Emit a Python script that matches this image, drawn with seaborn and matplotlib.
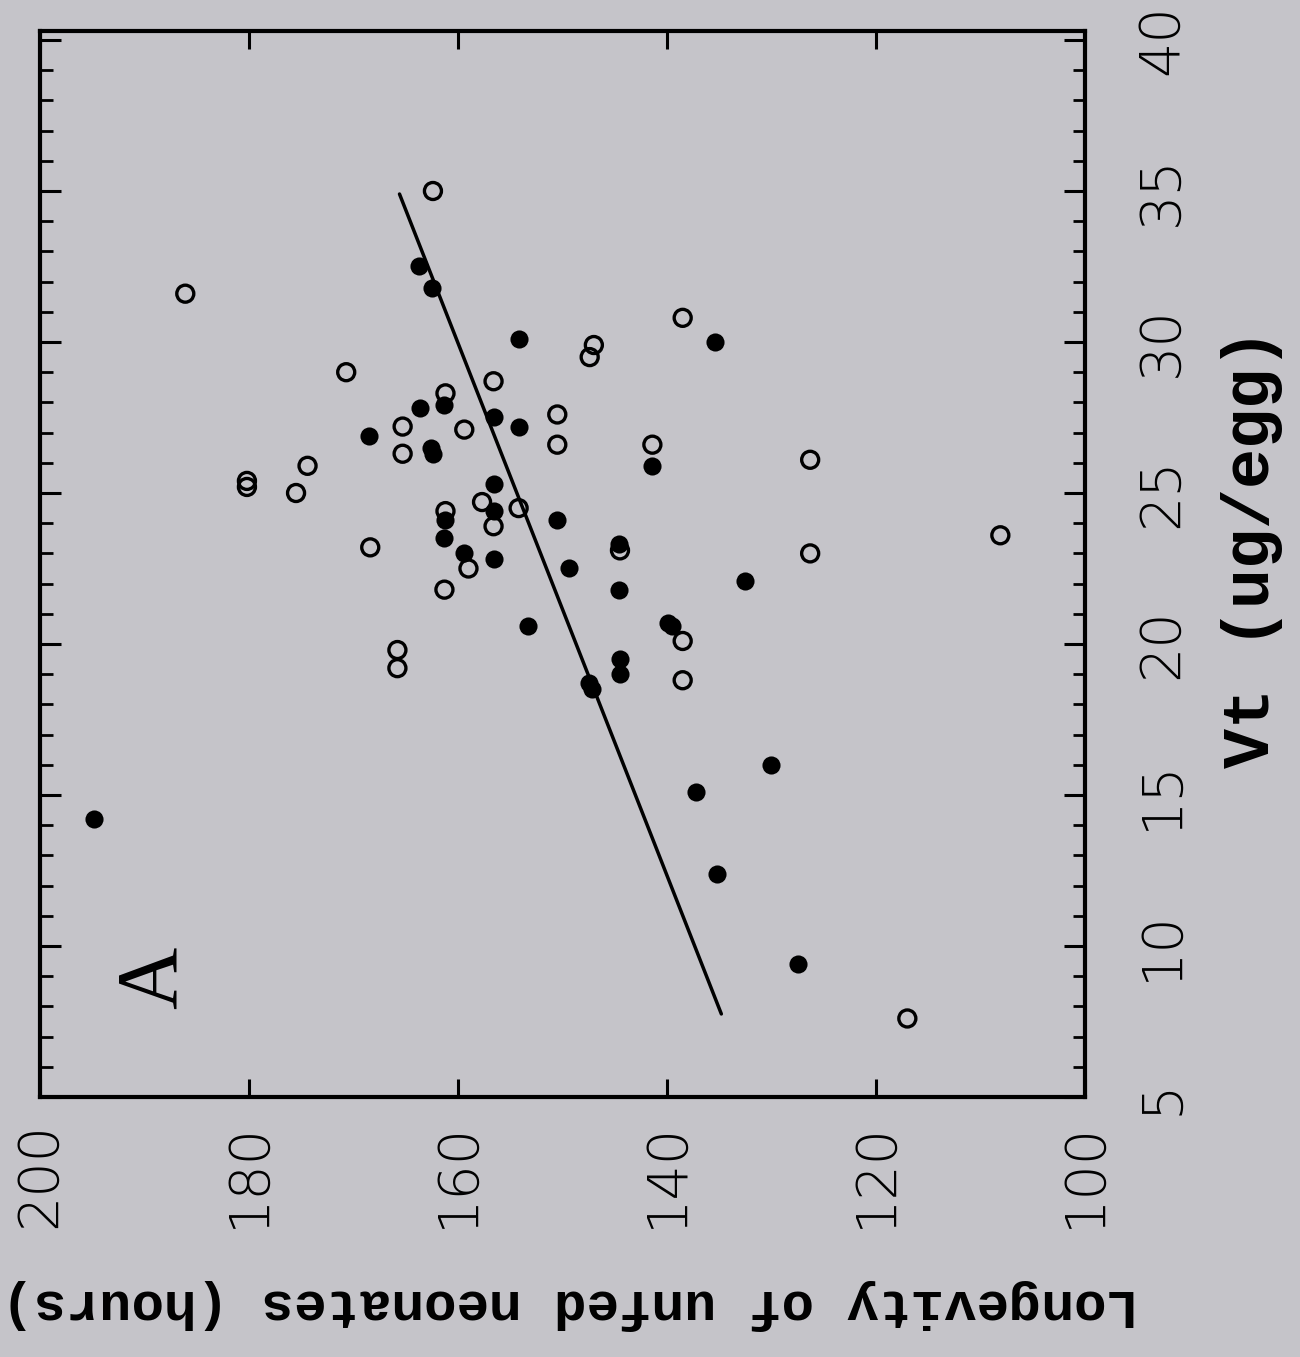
import numpy as np
import pandas as pd
import matplotlib
matplotlib.use("Agg")
import matplotlib.pyplot as plt
import seaborn as sns
from matplotlib.ticker import MultipleLocator

# ---- data (Longevity in hours, Vt in ug/egg) ----
open_longevity = [162.4, 186.1, 170.7, 147.0, 147.4, 138.5, 156.6, 161.2, 165.3, 159.4,
                  150.5, 150.5, 165.3, 174.4, 175.5, 180.2, 180.2, 141.4, 126.3, 168.4,
                  157.7, 154.2, 161.2, 156.6, 159.0, 144.5, 161.3, 138.5, 165.8, 165.8,
                  138.5, 126.3, 108.1, 117.0]
open_vt = [35.0, 31.6, 29.0, 29.9, 29.5, 30.8, 28.7, 28.3, 27.2, 27.1,
           27.6, 26.6, 26.3, 25.9, 25.0, 25.4, 25.2, 26.6, 26.1, 23.2,
           24.7, 24.5, 24.4, 23.9, 22.5, 23.1, 21.8, 20.1, 19.8, 19.2,
           18.8, 23.0, 23.6, 7.6]

filled_longevity = [163.7, 162.5, 154.2, 135.4, 168.5, 161.3, 163.6, 156.6, 154.2, 162.6,
                    162.4, 141.4, 156.6, 156.6, 161.2, 150.5, 161.3, 159.4, 156.6, 149.4,
                    144.6, 144.6, 132.5, 153.3, 139.9, 139.5, 144.5, 144.5, 147.5, 147.2,
                    130.0, 137.2, 135.2, 127.5, 194.8]
filled_vt = [32.5, 31.8, 30.1, 30.0, 26.9, 27.9, 27.8, 27.5, 27.2, 26.5,
             26.3, 25.9, 25.3, 24.4, 24.1, 24.1, 23.5, 23.0, 22.8, 22.5,
             23.3, 21.8, 22.1, 20.6, 20.7, 20.6, 19.5, 19.0, 18.7, 18.5,
             16.0, 15.1, 12.4, 9.4, 14.2]

line_longevity = [134.8, 165.6]
line_vt = [7.75, 34.9]

x_ticks = [100, 120, 140, 160, 180, 200]
y_ticks = [5, 10, 15, 20, 25, 30, 35, 40]

# ---- style ----
sns.set_theme(style="white")
plt.rcParams['font.family'] = ['DejaVu Sans']

bg = '#c5c4c9'
fig = plt.figure(figsize=(13, 13.57), dpi=100, facecolor=bg)
ax = fig.add_axes([0.0308, 0.1916, 0.8038, 0.7856], facecolor=bg)

df_open = pd.DataFrame({'Longevity': open_longevity, 'Vt': open_vt})
df_filled = pd.DataFrame({'Longevity': filled_longevity, 'Vt': filled_vt})
df_line = pd.DataFrame({'Longevity': line_longevity, 'Vt': line_vt})

sns.lineplot(data=df_line, x='Longevity', y='Vt', color='black', linewidth=2.5,
             estimator=None, sort=False, ax=ax, zorder=2)
sns.scatterplot(data=df_filled, x='Longevity', y='Vt', marker='o', s=170,
                color='black', edgecolor='black', linewidth=0, ax=ax, zorder=3)
sns.scatterplot(data=df_open, x='Longevity', y='Vt', marker='o', s=150,
                facecolor='none', edgecolor='black', linewidth=2.4, ax=ax, zorder=4)

ax.set_xlim(200, 100)
ax.set_ylim(5, 40.3)
ax.set_xticks(x_ticks)
ax.set_yticks(y_ticks)
ax.yaxis.set_minor_locator(MultipleLocator(1))

ax.tick_params(axis='x', which='major', direction='in', top=True, bottom=True,
               length=13, width=2.2, color='black', labelsize=40, pad=18,
               labelrotation=90, labelcolor='black')
ax.tick_params(axis='y', which='major', direction='in', left=True, right=True,
               labelleft=False, labelright=True, length=15, width=2.2, color='black',
               labelsize=40, pad=36, labelrotation=90, labelcolor='black')
ax.tick_params(axis='y', which='minor', direction='in', left=True, right=True,
               length=9, width=2.0, color='black')
for lbl in ax.get_yticklabels():
    lbl.set_va('center')
    lbl.set_fontweight('light')
for lbl in ax.get_xticklabels():
    lbl.set_fontweight('light')

for sp in ax.spines.values():
    sp.set_linewidth(3)
    sp.set_color('black')

ax.set_xlabel('Longevity of unfed neonates (hours)', family='Liberation Mono',
              fontweight='bold', fontsize=39, rotation=180, color='black')
ax.xaxis.set_label_coords(0.507, -0.195)
ax.xaxis.label.set_va('center')
ax.xaxis.label.set_ha('center')

ax.set_ylabel('Vt (ug/egg)', family='Liberation Mono', fontweight='bold',
              fontsize=48, color='black')
ax.yaxis.set_label_position('right')
ax.yaxis.label.set_rotation(90)
ax.yaxis.set_label_coords(1.160, 0.515)
ax.yaxis.label.set_va('center')
ax.yaxis.label.set_ha('center')

ax.text(0.110, 0.112, 'A', transform=ax.transAxes, rotation=90, fontsize=62,
        family='Liberation Serif', ha='center', va='center', color='black')

fig.savefig('out.png', dpi=100, facecolor=bg)
